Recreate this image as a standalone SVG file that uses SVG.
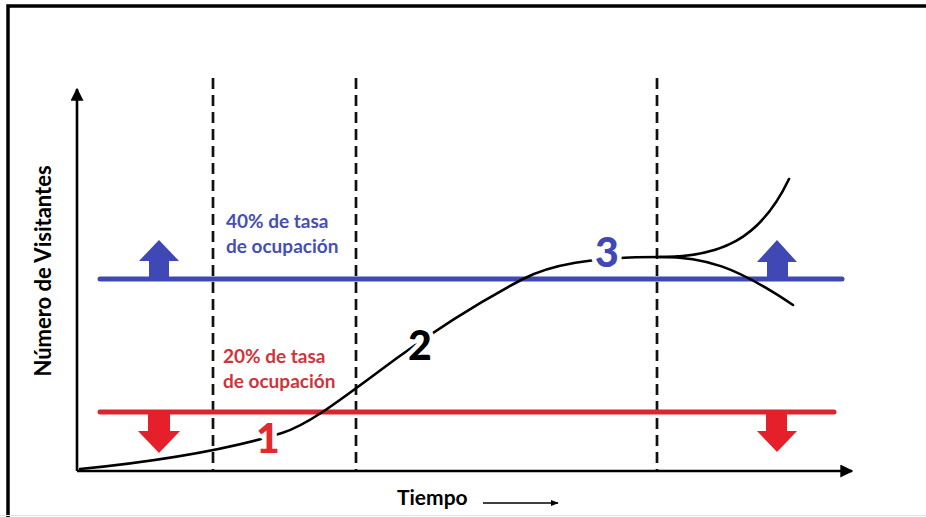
<svg xmlns="http://www.w3.org/2000/svg" width="926" height="517" viewBox="0 0 926 517">
<defs>
<style>
.frame{stroke:#000;stroke-width:3.5;fill:none}
.axis{stroke:#000;stroke-width:2.6;fill:none}
.dash{stroke:#111;stroke-width:2.7;stroke-dasharray:11 6;fill:none}
.curve{stroke:#000;stroke-width:2.6;fill:none;stroke-linecap:round}
.blue-line{stroke:#3F48B5;stroke-width:5;stroke-linecap:round}
.red-line{stroke:#D9262E;stroke-width:5;stroke-linecap:round}
.lbl{font-family:Lato,"Liberation Sans",sans-serif;font-weight:bold}
.num{font-family:Lato,"Liberation Sans",sans-serif;font-weight:900;font-size:41px;text-anchor:middle;stroke:#fff;stroke-width:9;paint-order:stroke;stroke-linejoin:round}
</style>
<marker id="ah" viewBox="0 0 10 10" refX="9" refY="5" markerWidth="5" markerHeight="5" orient="auto" markerUnits="strokeWidth">
<path d="M0,0 L10,5 L0,10 z" fill="#000"/>
</marker>
<marker id="ahs" viewBox="0 0 10 10" refX="9" refY="5" markerWidth="6" markerHeight="6" orient="auto" markerUnits="strokeWidth">
<path d="M0,1 L10,5 L0,9 z" fill="#000"/>
</marker>
</defs>
<rect width="926" height="517" fill="#fff"/>
<g id="frame">
<path class="frame" d="M8,517 V6 H926"/>
<line x1="0" y1="515.5" x2="926" y2="515.5" stroke="#e2e2e2" stroke-width="1"/>
</g>
<g id="connectors">
<line class="axis" x1="77" y1="471" x2="77" y2="89" marker-end="url(#ah)"/>
<line class="axis" x1="77" y1="471" x2="852" y2="471" marker-end="url(#ah)"/>
<line class="dash" x1="213" y1="78" x2="213" y2="470"/>
<line class="dash" x1="356" y1="78" x2="356" y2="470"/>
<line class="dash" x1="657" y1="78" x2="657" y2="470"/>
<line class="blue-line" x1="100" y1="279" x2="842" y2="279"/>
<line class="red-line" x1="100" y1="412" x2="834" y2="412"/>
<path class="curve" d="M80,469 C140,463 220,452 282,433 C310,424 340,400 397,358 C430,334 470,307 523,279 C550,265 590,257 660,257"/>
<path class="curve" d="M660,257 C720,257 760,240 789,179"/>
<path class="curve" d="M660,257 C705,257 735,266 793,305"/>
<line x1="483" y1="503" x2="558" y2="503" stroke="#000" stroke-width="1.3" marker-end="url(#ahs)"/>
</g>
<g id="arrows">
<path d="M159,240 L179,261 L169,261 L169,279 L149,279 L149,261 L139,261 Z" fill="#3F48B5"/>
<path d="M777,240 L797,262 L788,262 L788,279 L767,279 L767,262 L757,262 Z" fill="#3F48B5"/>
<path d="M159,453 L180,431 L170,431 L170,412 L148,412 L148,431 L138,431 Z" fill="#E5202A"/>
<path d="M777,452 L797,431 L787,431 L787,412 L766,412 L766,431 L757,431 Z" fill="#E5202A"/>
</g>
<g id="labels">
<text class="num" x="268" y="453" fill="#E02A30">1</text>
<text class="num" x="420" y="360" fill="#000">2</text>
<text class="num" x="607" y="267" fill="#3F48B5">3</text>
<text class="lbl" x="226" y="228" font-size="19" fill="#4650B3">40% de tasa</text>
<text class="lbl" x="226" y="253" font-size="19" fill="#4650B3">de ocupación</text>
<text class="lbl" x="223" y="363" font-size="19" fill="#D0343A">20% de tasa</text>
<text class="lbl" x="223" y="388" font-size="19" fill="#D0343A">de ocupación</text>
<text class="lbl" x="397" y="505" font-size="21" fill="#000">Tiempo</text>
<text class="lbl" transform="translate(51,271) rotate(-90)" text-anchor="middle" font-size="22" fill="#000">Número de Visitantes</text>
</g>
</svg>
